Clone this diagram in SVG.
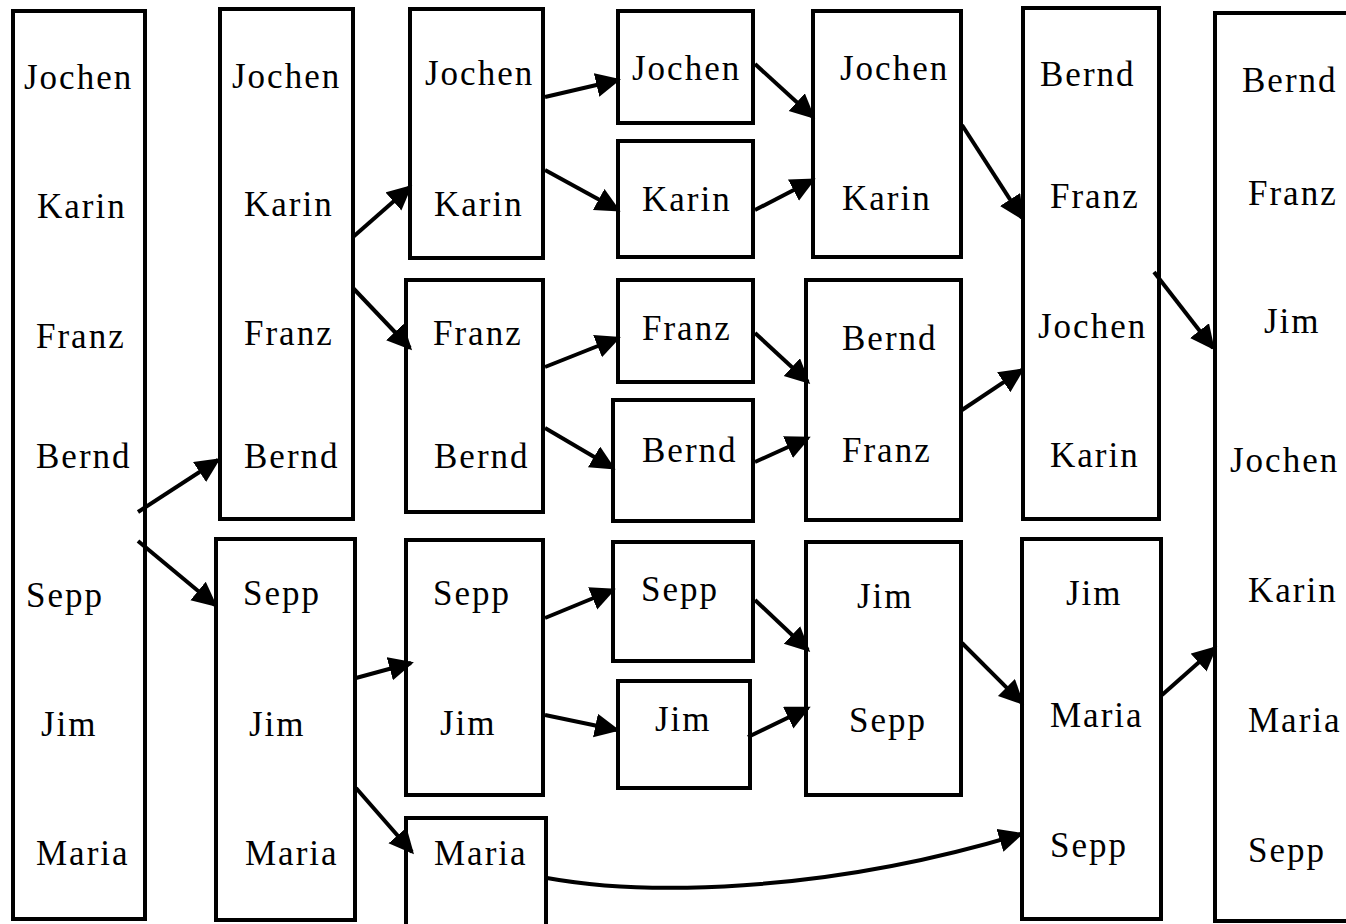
<svg xmlns="http://www.w3.org/2000/svg" width="1346" height="924" viewBox="0 0 1346 924">
<defs>
<style>
.box{fill:#fff;stroke:#000;stroke-width:4}
.t{font-family:"Liberation Serif","Times New Roman",serif;font-size:35px;letter-spacing:2px;fill:#000}
.c{fill:none;stroke:#000;stroke-width:4}
</style>
<marker id="ah" markerUnits="userSpaceOnUse" markerWidth="28" markerHeight="26" refX="22" refY="12" orient="auto">
<path d="M0,0 L25,12 L0,24 z" fill="#000"/>
</marker>
</defs>
<rect width="1346" height="924" fill="#fff"/>

<g id="col1">
<rect class="box" x="13" y="11" width="132" height="908"/>
<text class="t" x="24" y="89">Jochen</text>
<text class="t" x="37" y="218">Karin</text>
<text class="t" x="36" y="348">Franz</text>
<text class="t" x="36" y="468">Bernd</text>
<text class="t" x="26" y="607">Sepp</text>
<text class="t" x="41" y="736">Jim</text>
<text class="t" x="36" y="865">Maria</text>
</g>

<g id="col2-upper">
<rect class="box" x="220" y="9" width="133" height="510"/>
<text class="t" x="232" y="88">Jochen</text>
<text class="t" x="244" y="216">Karin</text>
<text class="t" x="244" y="345">Franz</text>
<text class="t" x="244" y="468">Bernd</text>
</g>
<g id="col2-lower">
<rect class="box" x="216" y="539" width="139" height="381"/>
<text class="t" x="243" y="605">Sepp</text>
<text class="t" x="249" y="736">Jim</text>
<text class="t" x="245" y="865">Maria</text>
</g>

<g id="col3-a">
<rect class="box" x="410" y="9" width="133" height="249"/>
<text class="t" x="425" y="85">Jochen</text>
<text class="t" x="434" y="216">Karin</text>
</g>
<g id="col3-b">
<rect class="box" x="406" y="280" width="137" height="232"/>
<text class="t" x="433" y="345">Franz</text>
<text class="t" x="434" y="468">Bernd</text>
</g>
<g id="col3-c">
<rect class="box" x="406" y="540" width="137" height="255"/>
<text class="t" x="433" y="605">Sepp</text>
<text class="t" x="440" y="735">Jim</text>
</g>
<g id="col3-d">
<rect class="box" x="406" y="818" width="140" height="120"/>
<text class="t" x="434" y="865">Maria</text>
</g>

<g id="col4-jochen">
<rect class="box" x="618" y="11" width="135" height="112"/>
<text class="t" x="632" y="80">Jochen</text>
</g>
<g id="col4-karin">
<rect class="box" x="618" y="141" width="135" height="116"/>
<text class="t" x="642" y="211">Karin</text>
</g>
<g id="col4-franz">
<rect class="box" x="618" y="280" width="135" height="102"/>
<text class="t" x="642" y="340">Franz</text>
</g>
<g id="col4-bernd">
<rect class="box" x="613" y="400" width="140" height="121"/>
<text class="t" x="642" y="462">Bernd</text>
</g>
<g id="col4-sepp">
<rect class="box" x="613" y="542" width="140" height="119"/>
<text class="t" x="641" y="601">Sepp</text>
</g>
<g id="col4-jim">
<rect class="box" x="618" y="681" width="132" height="107"/>
<text class="t" x="655" y="731">Jim</text>
</g>

<g id="col5-jk">
<rect class="box" x="813" y="11" width="148" height="246"/>
<text class="t" x="840" y="80">Jochen</text>
<text class="t" x="842" y="210">Karin</text>
</g>
<g id="col5-bf">
<rect class="box" x="806" y="280" width="155" height="240"/>
<text class="t" x="842" y="350">Bernd</text>
<text class="t" x="842" y="462">Franz</text>
</g>
<g id="col5-js">
<rect class="box" x="806" y="542" width="155" height="253"/>
<text class="t" x="857" y="608">Jim</text>
<text class="t" x="849" y="732">Sepp</text>
</g>

<g id="col6-upper">
<rect class="box" x="1023" y="8" width="136" height="511"/>
<text class="t" x="1040" y="86">Bernd</text>
<text class="t" x="1050" y="208">Franz</text>
<text class="t" x="1038" y="338">Jochen</text>
<text class="t" x="1050" y="467">Karin</text>
</g>
<g id="col6-lower">
<rect class="box" x="1022" y="539" width="139" height="380"/>
<text class="t" x="1066" y="605">Jim</text>
<text class="t" x="1050" y="727">Maria</text>
<text class="t" x="1050" y="857">Sepp</text>
</g>

<g id="col7">
<rect class="box" x="1215" y="13" width="145" height="908"/>
<text class="t" x="1242" y="92">Bernd</text>
<text class="t" x="1248" y="205">Franz</text>
<text class="t" x="1264" y="333">Jim</text>
<text class="t" x="1230" y="472">Jochen</text>
<text class="t" x="1248" y="602">Karin</text>
<text class="t" x="1248" y="732">Maria</text>
<text class="t" x="1248" y="862">Sepp</text>
</g>

<g id="connectors">
<line class="c" x1="138" y1="512" x2="218" y2="460" marker-end="url(#ah)"/>
<line class="c" x1="138" y1="541" x2="215" y2="605" marker-end="url(#ah)"/>
<line class="c" x1="353" y1="237" x2="410" y2="187" marker-end="url(#ah)"/>
<line class="c" x1="353" y1="288" x2="410" y2="348" marker-end="url(#ah)"/>
<line class="c" x1="356" y1="678" x2="411" y2="663" marker-end="url(#ah)"/>
<line class="c" x1="356" y1="788" x2="412" y2="852" marker-end="url(#ah)"/>
<line class="c" x1="545" y1="97" x2="618" y2="80" marker-end="url(#ah)"/>
<line class="c" x1="545" y1="170" x2="618" y2="210" marker-end="url(#ah)"/>
<line class="c" x1="545" y1="367" x2="618" y2="338" marker-end="url(#ah)"/>
<line class="c" x1="545" y1="428" x2="613" y2="468" marker-end="url(#ah)"/>
<line class="c" x1="545" y1="618" x2="613" y2="590" marker-end="url(#ah)"/>
<line class="c" x1="545" y1="715" x2="617" y2="730" marker-end="url(#ah)"/>
<path class="c" d="M547,878 C640,895 820,895 1021,834" marker-end="url(#ah)"/>
<line class="c" x1="755" y1="64" x2="813" y2="117" marker-end="url(#ah)"/>
<line class="c" x1="755" y1="210" x2="813" y2="180" marker-end="url(#ah)"/>
<line class="c" x1="755" y1="333" x2="808" y2="382" marker-end="url(#ah)"/>
<line class="c" x1="755" y1="462" x2="808" y2="438" marker-end="url(#ah)"/>
<line class="c" x1="755" y1="600" x2="808" y2="650" marker-end="url(#ah)"/>
<line class="c" x1="748" y1="737" x2="808" y2="708" marker-end="url(#ah)"/>
<line class="c" x1="962" y1="125" x2="1022" y2="218" marker-end="url(#ah)"/>
<line class="c" x1="962" y1="410" x2="1022" y2="370" marker-end="url(#ah)"/>
<line class="c" x1="962" y1="643" x2="1022" y2="703" marker-end="url(#ah)"/>
<line class="c" x1="1154" y1="272" x2="1213" y2="348" marker-end="url(#ah)"/>
<line class="c" x1="1162" y1="695" x2="1215" y2="648" marker-end="url(#ah)"/>
</g>
</svg>
